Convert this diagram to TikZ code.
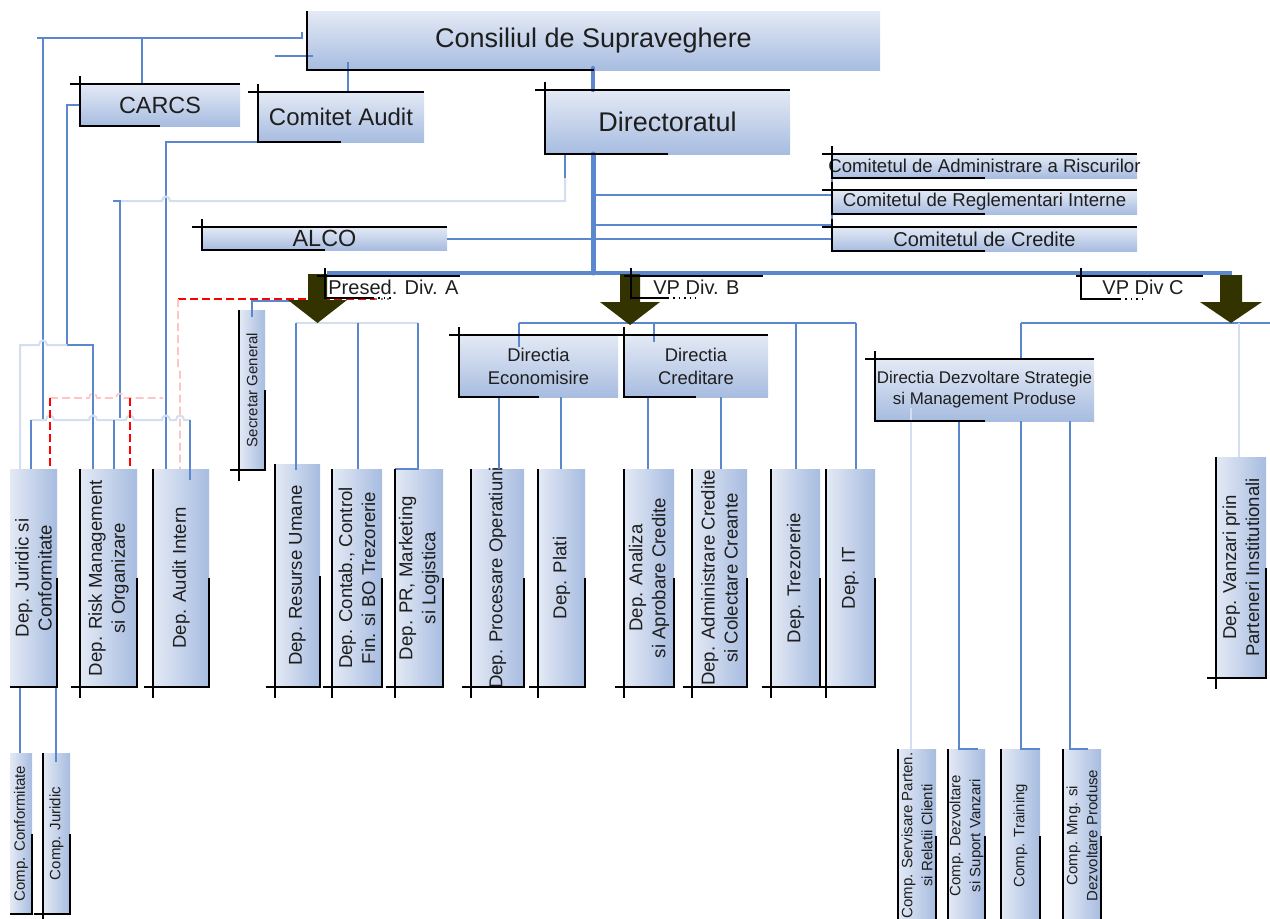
\documentclass[tikz,border=0pt]{standalone}
\usepackage{fontspec}
\setmainfont{Liberation Sans}
\usetikzlibrary{fit}
\definecolor{bl}{HTML}{5B87CF}
\definecolor{pale}{HTML}{D3DEF1}
\definecolor{boxl}{HTML}{E4EAF5}
\definecolor{boxd}{HTML}{A7BCE0}
\definecolor{olivec}{HTML}{333300}
\definecolor{pinkc}{HTML}{FFC4C4}
\definecolor{txt}{HTML}{1E1E1E}
\newcommand\fsz[2]{\fontsize{#1}{#2}\selectfont}
\tikzset{
 hb/.style={inner sep=0pt, outer sep=0pt, top color=boxl, bottom color=boxd, draw=none},
 vb/.style={inner sep=0pt, outer sep=0pt, left color=boxl, right color=boxd, draw=none},
 bt/.style={inner sep=0pt, text=txt, align=center},
 vt/.style={rotate=90, inner sep=0pt, text=txt, align=center},
 frame/.style={black, line width=0.7pt},
 con/.style={bl, line width=1pt},
 paleline/.style={pale, line width=1pt},
 trunk/.style={bl, line width=2.2pt, line cap=round},
 reddash/.style={red, line width=1pt, dash pattern=on 4pt off 2pt},
 pinkdash/.style={pinkc, line width=0.8pt, dash pattern=on 4pt off 2pt},
 arr/.style={fill=olivec, draw=none},
 divt/.style={inner sep=0pt, text=txt, anchor=west, font=\fsz{10}{12}}
}
\newcommand\hbx[7]{\node[hb, fit={(#2,#3) (#4,#5)}] (#1) {};
  \node[bt, font=#6] (#1-t) at (#1.center) {#7};}
\newcommand\vbx[7]{\node[vb, fit={(#2,#3) (#4,#5)}] (#1) {};
  \node[vt, font=#6] (#1-t) at (#1.center) {#7};}
\newcommand\hfr[1]{\draw[frame] ([xshift=-5pt]#1.north west) -- (#1.north east);
  \draw[frame] ([yshift=4pt]#1.north west) -- (#1.south west) -- (#1.south);}
\newcommand\vfr[1]{\draw[frame] (#1.north west) -- ([yshift=-5.5pt]#1.south west);
  \draw[frame] ([xshift=-4.5pt]#1.south west) -- (#1.south east) -- (#1.east);}
\newcommand\vfrR[1]{\draw[frame] (#1.south west) -- (#1.south east) -- (#1.east);}
\begin{document}
\begin{tikzpicture}[x=0.5pt,y=-0.5pt]
\useasboundingbox (0,0) rectangle (1270,918);
% ---------- boxes ----------
\hbx{cons}{307}{11}{880}{70}{\fsz{13.5}{16}}{Consiliul de Supraveghere}
\hbx{carcs}{80}{84}{240}{126}{\fsz{11.7}{14}}{CARCS}
\hbx{audit}{258}{92}{424}{142}{\fsz{12}{14}}{Comitet Audit}
\hbx{dir}{545}{90}{790}{154}{\fsz{13.5}{16}}{Directoratul}
\hbx{alco}{202}{227}{447}{250}{\fsz{11.7}{14}}{ALCO}
\hbx{risc}{832}{154}{1137}{178}{\fsz{9.3}{11}}{Comitetul de Administrare a Riscurilor}
\hbx{regl}{832}{190}{1137}{214}{\fsz{9.3}{11}}{Comitetul de Reglementari Interne}
\hbx{cred}{832}{227}{1137}{251}{\fsz{10}{12}}{Comitetul de Credite}
\hbx{econ}{459}{335}{618}{397}{\fsz{9.2}{11.5}}{Directia\\Economisire}
\hbx{credit}{624}{335}{768}{397}{\fsz{9.2}{11.5}}{Directia\\Creditare}
\hbx{dezv}{875}{359}{1094}{421}{\fsz{8.45}{10.5}}{Directia Dezvoltare Strategie\\si Management Produse}
\vbx{jur}{10}{469}{57}{687}{\fsz{9.3}{11.5}}{Dep. Juridic si\\Conformitate}
\vbx{riskm}{80}{469}{137}{687}{\fsz{9.3}{11.5}}{Dep. Risk Management\\si Organizare}
\vbx{audint}{153}{469}{209}{687}{\fsz{9.3}{11.5}}{Dep. Audit Intern}
\vbx{sec}{239}{310}{265}{470}{\fsz{7.5}{9}}{Secretar General}
\vbx{resum}{275}{464}{320}{687}{\fsz{9.3}{11.5}}{Dep. Resurse Umane}
\vbx{contab}{332}{469}{382}{687}{\fsz{9.3}{11.5}}{Dep. Contab., Control\\Fin. si BO Trezorerie}
\vbx{prmk}{395}{469}{443}{687}{\fsz{9.3}{11.5}}{Dep. PR, Marketing\\si Logistica}
\vbx{proc}{471}{469}{524}{687}{\fsz{9.3}{11.5}}{Dep. Procesare Operatiuni}
\vbx{plati}{538}{469}{585}{687}{\fsz{9.3}{11.5}}{Dep. Plati}
\vbx{analiza}{624}{469}{674}{687}{\fsz{9.3}{11.5}}{Dep. Analiza\\si Aprobare Credite}
\vbx{admcr}{692}{469}{747}{687}{\fsz{9.3}{11.5}}{Dep. Administrare Credite\\si Colectare Creante}
\vbx{trez}{771}{469}{820}{687}{\fsz{9.3}{11.5}}{Dep. Trezorerie}
\vbx{it}{826}{469}{875}{687}{\fsz{9.3}{11.5}}{Dep. IT}
\vbx{vanz}{1216}{457}{1266}{678}{\fsz{9.3}{11.5}}{Dep. Vanzari prin\\Parteneri Institutionali}
\vbx{cconf}{10}{753}{32}{914}{\fsz{7.5}{9}}{Comp. Conformitate}
\vbx{cjur}{43}{753}{70}{914}{\fsz{7.5}{9}}{Comp. Juridic}
\vbx{cserv}{898}{749}{936}{922}{\fsz{7.5}{10}}{Comp. Servisare Parten.\\si Relatii Clienti}
\vbx{cdezv}{948}{749}{985}{922}{\fsz{7.5}{10}}{Comp. Dezvoltare\\si Suport Vanzari}
\vbx{ctrain}{1001}{749}{1040}{922}{\fsz{7.5}{10}}{Comp. Training}
\vbx{cmng}{1063}{749}{1101}{922}{\fsz{7.5}{10}}{Comp. Mng. si\\Dezvoltare Produse}
% ---------- connectors ----------
\draw[con] (302,32) -- (302,38) -- (37,38);
\draw[con] (43,38) -- (43,420);
\draw[con] (142,38) -- (142,0 |- carcs.north);
\draw[con] (275,56) -- (313,56);
\draw[con] (348,62) -- (348,0 |- audit.north);
\draw[con] (carcs.west) -- (67,0 |- carcs.west) -- (67,345) -- (93,345) -- (93,0 |- riskm.north);
\draw[paleline] (67,345) -- (47,345) .. controls (47,339) and (39,339) .. (39,345) -- (20,345) -- (20,0 |- jur.north);
\draw[con] (audit.south west) -- (166,0 |- audit.south west) -- (166,0 |- audint.north);
\draw[con] (565,0 |- dir.south) -- (565,178);
\draw[paleline] (565,178) -- (565,201) -- (170,201) .. controls (170,195) and (162,195) .. (162,201) -- (120,201);
\draw[con] (113,201) -- (120,201) -- (120,418);
\draw[paleline] (31,420) -- (46,420) .. controls (46,414) and (54,414) .. (54,420) -- (89,420) .. controls (89,414) and (97,414) .. (97,420) -- (126,420) .. controls (126,414) and (134,414) .. (134,420) -- (162,420) .. controls (162,414) and (170,414) .. (170,420) -- (176,420) .. controls (176,414) and (184,414) .. (184,420) -- (190,420);
\draw[con] (31,420) -- (31,0 |- jur.north);
\draw[con] (114,420) -- (114,0 |- riskm.north);
\draw[con] (190,420) -- (190,480);
\draw[reddash] (178,299) -- (375,299);
\draw[gray, line width=1pt, dotted] (375,299) -- (392,299);
\draw[pinkdash] (178,299) -- (178,368) -- (180,372) -- (180,0 |- audint.north);
\draw[pinkdash] (50,398) -- (89,398) .. controls (89,392) and (97,392) .. (97,398) -- (116,398) .. controls (116,392) and (124,392) .. (124,398) -- (163,398);
\draw[reddash] (50,398) -- (50,0 |- jur.north);
\draw[reddash] (130,398) -- (130,0 |- riskm.north);
\draw[con] (252,317) -- (252,301) -- (300,301);
% Div A
\draw[paleline] (296,323) -- (418,323);
\draw[con] (296,323) -- (296,470);
\draw[con] (358,323) -- (358,0 |- contab.north);
\draw[con] (418,323) -- (418,0 |- prmk.north) -- (prmk.north west);
% Div B
\draw[con] (519,323) -- (856,323);
\draw[con] (519,323) -- (519,347);
\draw[con] (654,323) -- (654,342);
\draw[con] (796,323) -- (796,0 |- trez.north);
\draw[con] (856,323) -- (856,0 |- it.north);
\draw[con] (499,0 |- econ.south) -- (499,0 |- proc.north);
\draw[con] (561,0 |- econ.south) -- (561,0 |- plati.north);
\draw[con] (648,0 |- credit.south) -- (648,0 |- analiza.north);
\draw[con] (721,0 |- credit.south) -- (721,0 |- admcr.north);
% Div C
\draw[con] (1021,323) -- (1270,323);
\draw[con] (1021,323) -- (1021,0 |- dezv.north);
\draw[paleline] (1239,323) -- (1239,0 |- vanz.north);
\draw[paleline] (911,408) -- (911,0 |- cserv.north);
\draw[con] (959,0 |- dezv.south) -- (959,0 |- cdezv.north) -- (978,0 |- cdezv.north);
\draw[con] (1021,0 |- dezv.south) -- (1021,0 |- ctrain.north) -- (ctrain.north east);
\draw[con] (1070,0 |- dezv.south) -- (1070,0 |- cmng.north) -- (1088,0 |- cmng.north);
% committees
\draw[con] (593,195) -- (832,195);
\draw[con] (593,225) -- (832,225);
\draw[con] (alco.east) -- (alco.east -| cred.west);
\draw[con] (832,163) -- (832,227);
% juridic comps
\draw[con] (20,0 |- jur.south) -- (20,0 |- cconf.north);
\draw[con] (56,0 |- jur.south) -- (56,762);
% trunk
\draw[trunk] (593,68) -- (593,0 |- dir.north);
\draw[trunk, line width=2.5pt] (593,0 |- dir.south) -- (593,273);
\draw[bl, line width=2pt] (327,273) -- (1232,273);
% ---------- block arrows ----------
\fill[arr] (308,274) -- (327,274) -- (327,300) -- (347,300) -- (317.5,323) -- (288,300) -- (308,300) -- cycle;
\fill[arr] (620,274) -- (640,274) -- (640,302) -- (660,302) -- (630,325) -- (600,302) -- (620,302) -- cycle;
\fill[arr] (1220,275) -- (1242,275) -- (1242,302) -- (1262,302) -- (1231,323) -- (1200,302) -- (1220,302) -- cycle;
% ---------- division labels ----------
\node[divt] (pA) at (328,287) {Presed. Div. A};
\node[divt] (pB) at (653,287) {VP Div. B};
\node[divt] (pC) at (1102,287) {VP Div C};
\draw[frame] (317,276) -- (460,276);
\draw[frame] (325,268) -- (325,298) -- (373,298);
\draw[frame, dotted] (373,298) -- (392,298);
\draw[frame] (624,276) -- (763,276);
\draw[frame] (631,268) -- (631,298) -- (668,298);
\draw[frame, dotted] (668,298) -- (698,298);
\draw[frame] (1076,276) -- (1203,276);
\draw[frame] (1081,268) -- (1081,299) -- (1120,299);
\draw[frame, dotted] (1120,299) -- (1143,299);
% ---------- frames ----------
\draw[frame] (cons.north west) -- (cons.south west) -- (cons.south);
\hfr{carcs}\hfr{audit}\hfr{dir}\hfr{alco}\hfr{risc}\hfr{regl}\hfr{cred}
\hfr{econ}\hfr{credit}\hfr{dezv}
\vfrR{jur}\vfr{riskm}\vfr{audint}\vfr{sec}\vfr{resum}\vfr{contab}\vfr{prmk}
\vfr{proc}\vfr{plati}\vfr{analiza}\vfr{admcr}\vfr{trez}\vfr{it}\vfr{vanz}
\vfrR{cconf}\vfr{cjur}\vfr{cserv}\vfr{cdezv}\vfr{ctrain}\vfr{cmng}
\end{tikzpicture}
\end{document}
